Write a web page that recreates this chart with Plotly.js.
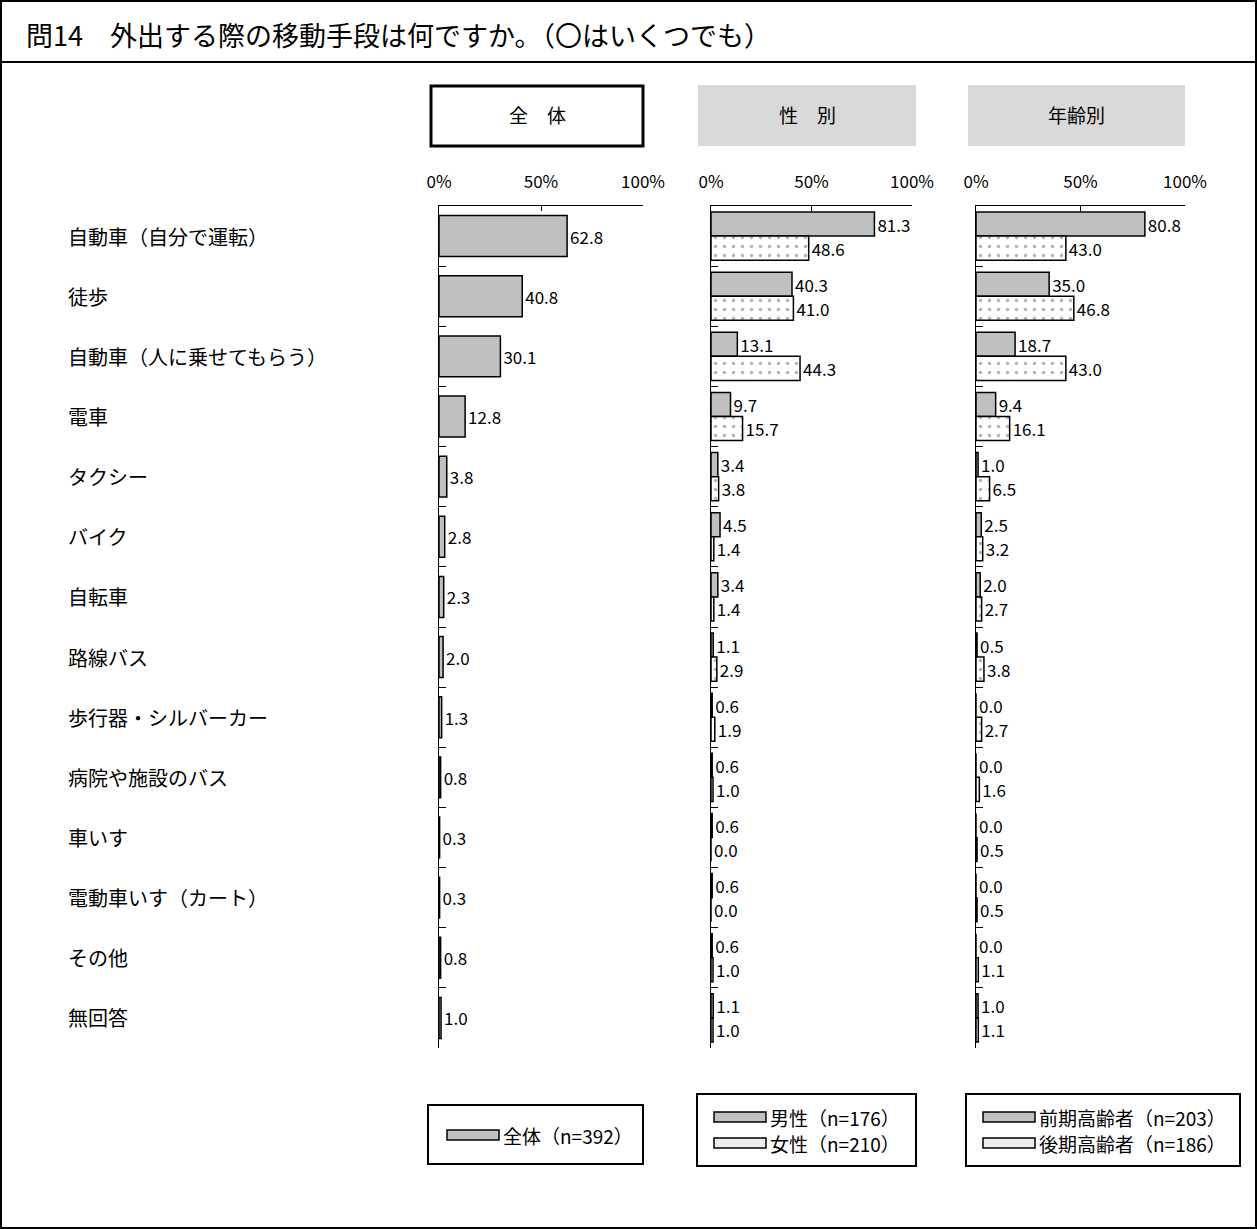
<!DOCTYPE html>
<html><head><meta charset="utf-8">
<script src="https://cdn.plot.ly/plotly-3.0.1.min.js"></script>
<style>html,body{margin:0;padding:0;background:#fff}</style>
</head><body>
<div id="chart" style="width:1257px;height:1229px"></div>
<script>
const categories = ["自動車（自分で運転）","徒歩","自動車（人に乗せてもらう）","電車","タクシー","バイク","自転車","路線バス","歩行器・シルバーカー","病院や施設のバス","車いす","電動車いす（カート）","その他","無回答"];
const total   = [62.8,40.8,30.1,12.8,3.8,2.8,2.3,2.0,1.3,0.8,0.3,0.3,0.8,1.0];
const male    = [81.3,40.3,13.1,9.7,3.4,4.5,3.4,1.1,0.6,0.6,0.6,0.6,0.6,1.1];
const female  = [48.6,41.0,44.3,15.7,3.8,1.4,1.4,2.9,1.9,1.0,0.0,0.0,1.0,1.0];
const early   = [80.8,35.0,18.7,9.4,1.0,2.5,2.0,0.5,0.0,0.0,0.0,0.0,0.0,1.0];
const late    = [43.0,46.8,43.0,16.1,6.5,3.2,2.7,3.8,2.7,1.6,0.5,0.5,1.1,1.1];
const tickVals = [0,50,100];
const tickText = ["0%","50%","100%"];
const panelTitles = ["全　体","性　別","年齢別"];
const nameTotal = "全体（n=392）";
const nameMale = "男性（n=176）";
const nameFemale = "女性（n=210）";
const nameEarly = "前期高齢者（n=203）";
const nameLate = "後期高齢者（n=186）";
const titleText = "問14　外出する際の移動手段は何ですか。（〇はいくつでも）";

const W = 1257, H = 1229;
const px = v => v / W, py = v => 1 - v / H;
const FONT = "'Noto Sans CJK JP', 'Noto Sans', sans-serif";
const GRAY = "#c0c0c0";
const DOTBG = "#ffffff";
const line = {color:"#000", width:1.5};
const dots = {shape:".", fgcolor:"#b4b4b4", bgcolor:DOTBG, size:9, solidity:0.12};
const txtFont = {family:FONT, size:17, color:"#000"};

function bar(x, name, ax, pattern, width) {
  const t = {type:"bar", orientation:"h", x:x, y:categories, name:name,
    xaxis:"x"+ax, yaxis:"y"+ax, showlegend:false,
    marker:{color: pattern ? DOTBG : GRAY, line:line},
    texttemplate:"%{x:.1f}", textposition:"outside", textfont:txtFont,
    constraintext:"none", cliponaxis:false, hoverinfo:"skip"};
  if (pattern) t.marker.pattern = dots;
  if (width) t.width = width;
  return t;
}
const data = [
  bar(total, nameTotal, "", false, 0.68),
  bar(male, nameMale, "2", false),
  bar(female, nameFemale, "2", true),
  bar(early, nameEarly, "3", false),
  bar(late, nameLate, "3", true)
];

const ydom = [py(1048), py(206)];
const panels = [[439,643],[711,912],[976,1185]];
function xaxis(d, yname) {
  return {domain:[px(d[0]), px(d[1])], range:[0,100], side:"top", anchor:yname,
    tickvals:tickVals, ticktext:tickText, ticks:"inside", ticklen:5, tickcolor:"#000",
    showline:true, linecolor:"#000", linewidth:1, showgrid:false, zeroline:false,
    ticklabelstandoff:10, tickfont:{family:FONT, size:17, color:"#000"}, fixedrange:true};
}
function yaxis(xname) {
  return {domain:ydom, anchor:xname, type:"category", range:[13.5,-0.5],
    showticklabels:false, ticks:"inside", ticklen:7, tickcolor:"#000", tickson:"boundaries",
    showline:true, linecolor:"#000", linewidth:1, showgrid:false, zeroline:false, fixedrange:true};
}

const P = {xref:"paper", yref:"paper"};
const shapes = [
  Object.assign({type:"rect", x0:px(1), x1:px(1256), y0:py(1228), y1:py(1), line:{color:"#000", width:2}}, P),
  Object.assign({type:"line", x0:px(1), x1:px(1256), y0:py(62), y1:py(62), line:{color:"#000", width:2}}, P),
  Object.assign({type:"rect", x0:px(431), x1:px(643), y0:py(146), y1:py(86), line:{color:"#000", width:3}, fillcolor:"#fff"}, P),
  Object.assign({type:"rect", x0:px(698), x1:px(916), y0:py(146), y1:py(85), line:{width:0}, fillcolor:"#d9d9d9"}, P),
  Object.assign({type:"rect", x0:px(968), x1:px(1185), y0:py(146), y1:py(85), line:{width:0}, fillcolor:"#d9d9d9"}, P),
  Object.assign({type:"rect", x0:px(428), x1:px(643), y0:py(1164), y1:py(1105), line:{color:"#000", width:2}}, P),
  Object.assign({type:"rect", x0:px(697), x1:px(916), y0:py(1166), y1:py(1094), line:{color:"#000", width:2}}, P),
  Object.assign({type:"rect", x0:px(966), x1:px(1240), y0:py(1166), y1:py(1094), line:{color:"#000", width:2}}, P)
];

const annotations = [
  Object.assign({text:titleText, x:px(24), y:py(35), xanchor:"left", yanchor:"middle", showarrow:false, font:{family:FONT, size:27, color:"#000"}}, P)
];
[[537,0],[807,1],[1076,2]].forEach(([cx,i]) => annotations.push(Object.assign({text:panelTitles[i], x:px(cx), y:py(115),
  xanchor:"center", yanchor:"middle", showarrow:false, font:{family:FONT, size:19, color:"#000"}}, P)));
categories.forEach(c => annotations.push({text:c, xref:"paper", yref:"y", x:px(66), y:c,
  xanchor:"left", yanchor:"middle", showarrow:false, font:{family:FONT, size:20, color:"#000"}}));

// legends: swatch + label (names taken from the series names above)
const legendItems = [
  [nameTotal, false, 447, 1135],
  [nameMale, false, 714, 1117],
  [nameFemale, true, 714, 1143],
  [nameEarly, false, 983, 1117],
  [nameLate, true, 983, 1143]
];
legendItems.forEach(([name, pat, lx, ly]) => {
  shapes.push(Object.assign({type:"rect", x0:px(lx), x1:px(lx+52), y0:py(ly+5), y1:py(ly-5),
    line:{color:"#000", width:1.5}, fillcolor: pat ? "#ececec" : GRAY}, P));
  annotations.push(Object.assign({text:name, x:px(lx+54), y:py(ly), xanchor:"left", yanchor:"middle",
    showarrow:false, font:{family:FONT, size:19, color:"#000"}}, P));
});

const layout = {
  width:W, height:H, margin:{l:0,r:0,t:0,b:0}, paper_bgcolor:"#fff", plot_bgcolor:"rgba(0,0,0,0)",
  font:{family:FONT, color:"#000"}, barmode:"group", bargap:0.2, bargroupgap:0,
  showlegend:false,
  xaxis:xaxis(panels[0],"y"), yaxis:yaxis("x"),
  xaxis2:xaxis(panels[1],"y2"), yaxis2:yaxis("x2"),
  xaxis3:xaxis(panels[2],"y3"), yaxis3:yaxis("x3"),
  shapes:shapes, annotations:annotations
};
Plotly.newPlot("chart", data, layout, {displayModeBar:false});
</script>
</body></html>
